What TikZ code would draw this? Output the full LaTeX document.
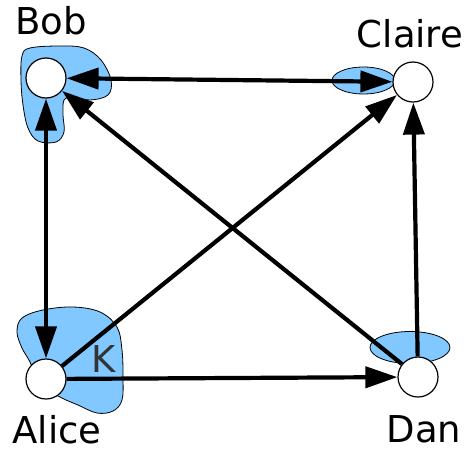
\documentclass[tikz,border=0pt]{standalone}
\usepackage{fontspec}
\setmainfont{DejaVu Sans}
\usetikzlibrary{arrows.meta}
\definecolor{blobblue}{HTML}{80C8FF}
\definecolor{kgrey}{HTML}{333333}
\begin{document}
\begin{tikzpicture}[x=1pt,y=-1pt,
  person/.style={circle,draw,fill=white,line width=1.2pt,minimum size=40pt,inner sep=0pt},
  personname/.style={font=\fontsize{37}{40}\selectfont,anchor=base,inner sep=0pt},
  blob/.style={fill=blobblue,draw=black,line width=0.8pt},
  link/.style={line width=4.2pt,-{Triangle[length=32pt,width=21pt]}},
  twoway/.style={line width=4.2pt,{Triangle[length=32pt,width=21pt]}-{Triangle[length=32pt,width=21pt]}}]
\useasboundingbox (0,0) rectangle (466,450);

% shaded regions around the people
\draw[blob] plot[smooth cycle, tension=0.6] coordinates {(22,56) (30,48) (60,46) (84,48) (101,60) (111,80) (108,95) (90,100) (72,97) (64,100) (63,115) (64,132) (56,142) (38,141) (28,128) (23,105) (21,80)};
\draw[blob] plot[smooth cycle, tension=0.6] coordinates {(17,332) (22,318) (43,310) (73,307) (100,312) (117,327) (122,350) (123,377) (122,400) (113,411) (97,413) (78,405) (62,398) (40,385) (30,362) (22,348)};
\draw[blob] (410,347.5) ellipse [x radius=40pt, y radius=16pt];
\draw[blob] (363.5,80.5) ellipse [x radius=31.5pt, y radius=13.5pt];

% people
\node[person] (bob) at (46,78) {};
\node[person] (claire) at (413,82) {};
\node[person] (alice) at (46,379) {};
\node[person] (dan) at (418,377) {};

% names
\node[personname] (bobname) at (51,34) {Bob};
\node[personname] (clairename) at (410,47) {Claire};
\node[personname] (alicename) at (57,443) {Alice};
\node[personname] (danname) at (424,442) {Dan};
\node[personname,text=kgrey] (klabel) at (104,372) {K};

% relations
\draw[twoway] (bob) -- (claire);
\draw[twoway] (bob) -- (alice);
\draw[link] (alice) -- (claire);
\draw[link] (dan) -- (bob);
\draw[link] (alice) -- (dan);
\draw[link] (dan) -- (claire);
\end{tikzpicture}
\end{document}
